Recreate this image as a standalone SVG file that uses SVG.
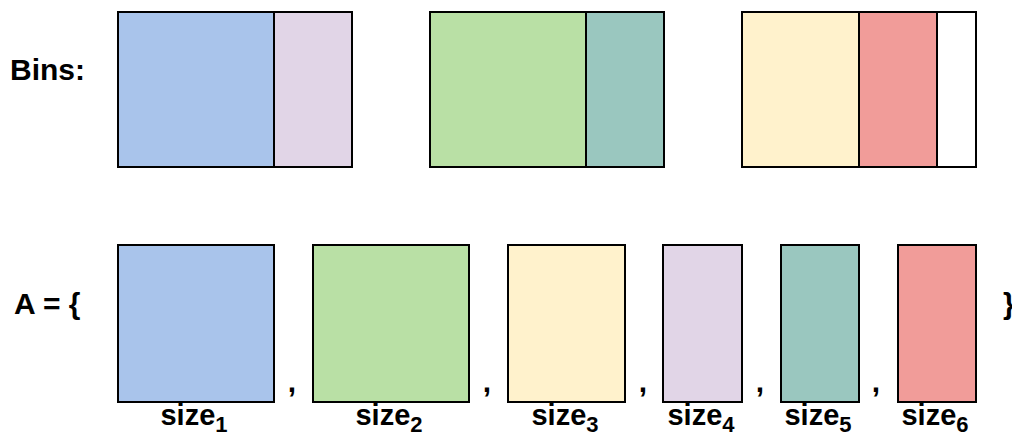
<svg xmlns="http://www.w3.org/2000/svg" width="1012" height="434" viewBox="0 0 1012 434">
<style>
.t{font-family:"Liberation Sans",Arial,sans-serif;font-weight:bold;font-size:30px;fill:#000}
.lbl{font-family:"Liberation Sans",Arial,sans-serif;font-weight:bold;font-size:29px;fill:#000;text-anchor:middle}
.sub{font-size:22px}
.b{stroke:#000;stroke-width:2}
.blue{fill:#A9C4EB}.lav{fill:#E1D5E7}.green{fill:#B9E0A5}.teal{fill:#9AC7BF}.yel{fill:#FFF2CC}.red{fill:#F19C99}.wh{fill:#FFFFFF}
</style>
<rect width="1012" height="434" fill="#fff"/>
<text class="t" x="10" y="80" font-size="31">Bins:</text>
<text class="t" x="14" y="314">A = {</text>
<text class="t" x="1003" y="314">}</text>
<g id="bin1">
<rect class="b blue" x="118" y="12" width="156" height="155"/>
<rect class="b lav" x="274" y="12" width="78" height="155"/>
</g>
<g id="bin2">
<rect class="b green" x="430" y="12" width="156" height="155"/>
<rect class="b teal" x="586" y="12" width="78" height="155"/>
</g>
<g id="bin3">
<rect class="b yel" x="742" y="12" width="117" height="155"/>
<rect class="b red" x="859" y="12" width="78" height="155"/>
<rect class="b wh" x="937" y="12" width="39" height="155"/>
</g>
<g id="item1">
<rect class="b blue" x="118" y="245" width="156" height="157"/>
<text class="lbl" x="194" y="425">size<tspan class="sub" dy="7">1</tspan></text>
</g>
<g id="item2">
<rect class="b green" x="313" y="245" width="156" height="157"/>
<text class="lbl" x="389" y="425">size<tspan class="sub" dy="7">2</tspan></text>
</g>
<g id="item3">
<rect class="b yel" x="508" y="245" width="117" height="157"/>
<text class="lbl" x="565" y="425">size<tspan class="sub" dy="7">3</tspan></text>
</g>
<g id="item4">
<rect class="b lav" x="663" y="245" width="79" height="157"/>
<text class="lbl" x="701" y="425">size<tspan class="sub" dy="7">4</tspan></text>
</g>
<g id="item5">
<rect class="b teal" x="781" y="245" width="78" height="157"/>
<text class="lbl" x="818" y="425">size<tspan class="sub" dy="7">5</tspan></text>
</g>
<g id="item6">
<rect class="b red" x="898" y="245" width="78" height="157"/>
<text class="lbl" x="935" y="425">size<tspan class="sub" dy="7">6</tspan></text>
</g>
<g id="commas" class="t" text-anchor="middle">
<text x="292" y="392">,</text>
<text x="487" y="392">,</text>
<text x="643" y="392">,</text>
<text x="760" y="392">,</text>
<text x="876" y="392">,</text>
</g>
</svg>
